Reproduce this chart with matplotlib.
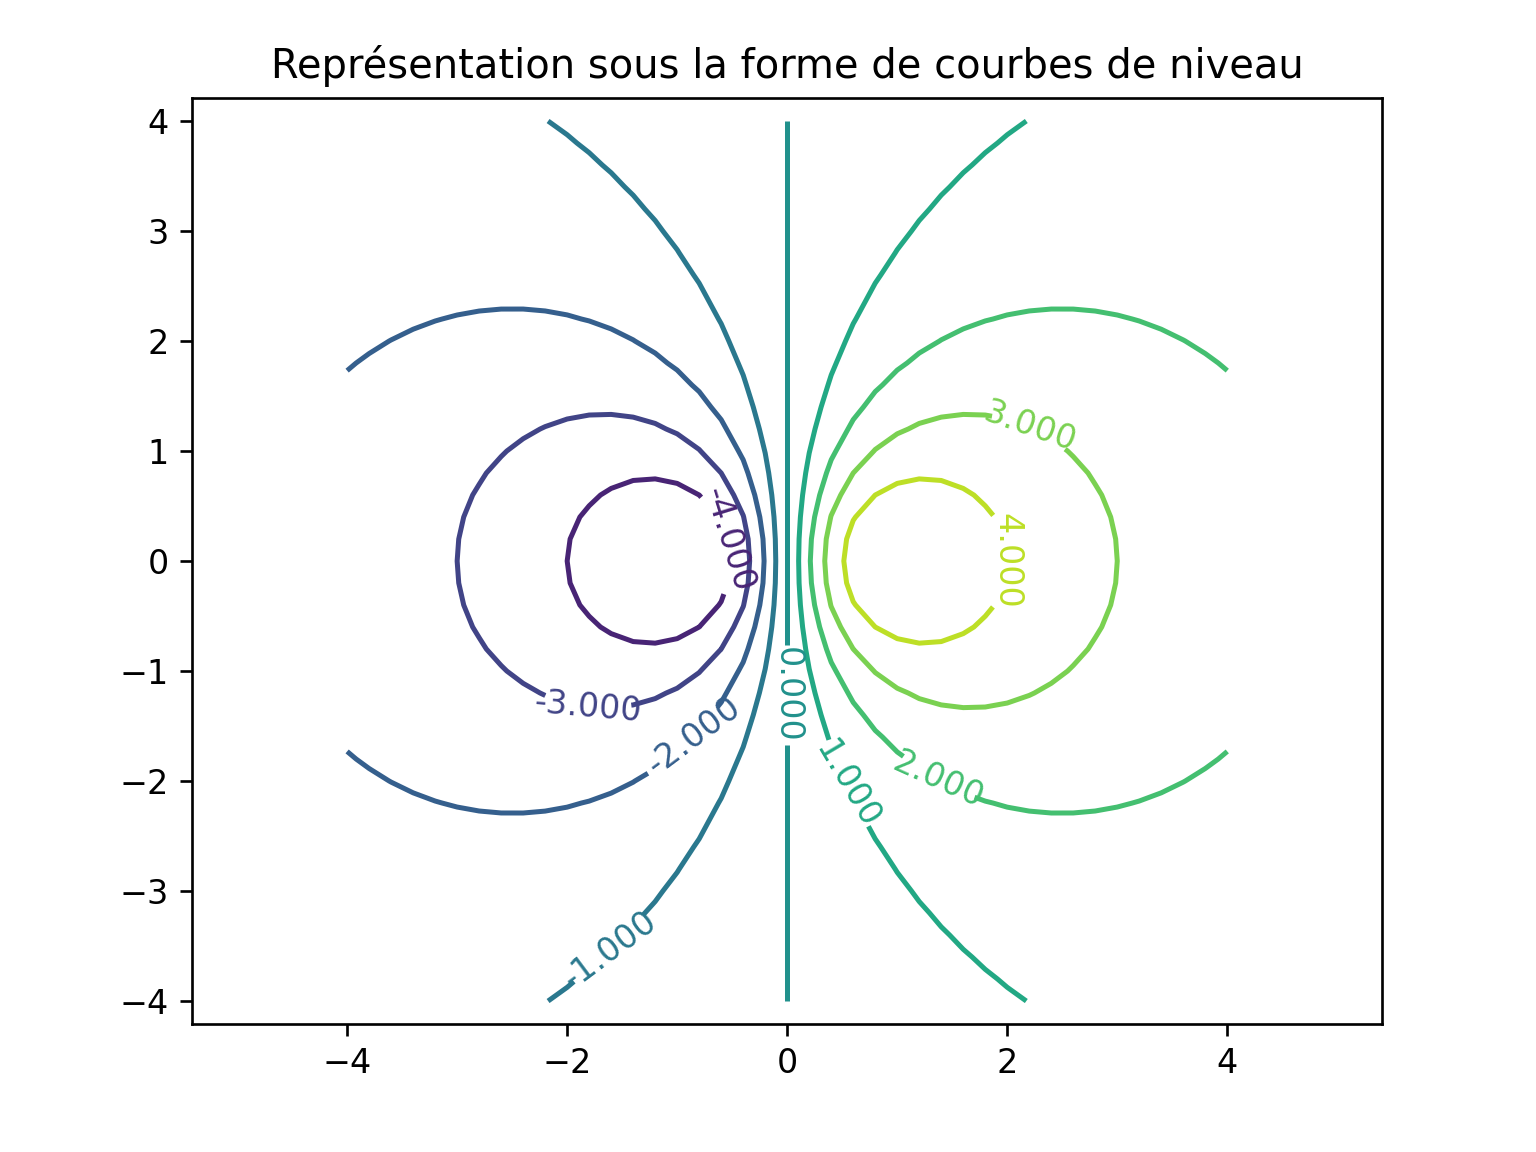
import numpy as np
import matplotlib
matplotlib.use("Agg")
import matplotlib.pyplot as plt

# Grille et fonction
x = np.linspace(-4, 4, 41)
y = np.linspace(-4, 4, 41)
niveaux = [-4, -3, -2, -1, 0, 1, 2, 3, 4]

# positions des étiquettes
pos_etiquettes = [(-0.55, 0.19), (-1.81, -1.31), (-0.92, -1.68), (-1.61, -3.54),
                  (0.0, -1.22), (0.53, -2.04), (1.37, -1.99), (2.2, 1.19), (1.99, 0.0)]

X, Y = np.meshgrid(x, y)
Z = 10 * X / (X**2 + Y**2 + 1)

fig = plt.figure(figsize=(6.4, 4.8), dpi=240)
fig.subplots_adjust(left=0.125, right=0.9, bottom=0.111, top=0.915)
ax = fig.add_subplot(111)
cs = ax.contour(X, Y, Z, levels=niveaux, cmap='viridis', norm=plt.Normalize(-5, 5))
etiquettes = ax.clabel(cs, inline=True, fontsize=10, fmt='%.3f', manual=pos_etiquettes)
# sens de lecture des étiquettes verticales comme sur l'original
for t in etiquettes:
    if t.get_text() in ("0.000", "4.000"):
        t.set_rotation(-90)
    if t.get_text() == "-2.000":
        px, py = t.get_position()
        t.set_position((px + 0.08, py + 0.07))
ax.set_xlim(-5.41, 5.41)
ax.set_ylim(-4.21, 4.21)
ax.set_xticks([-4, -2, 0, 2, 4])
ax.set_title("Représentation sous la forme de courbes de niveau")
fig.savefig("out.png", dpi=240)
